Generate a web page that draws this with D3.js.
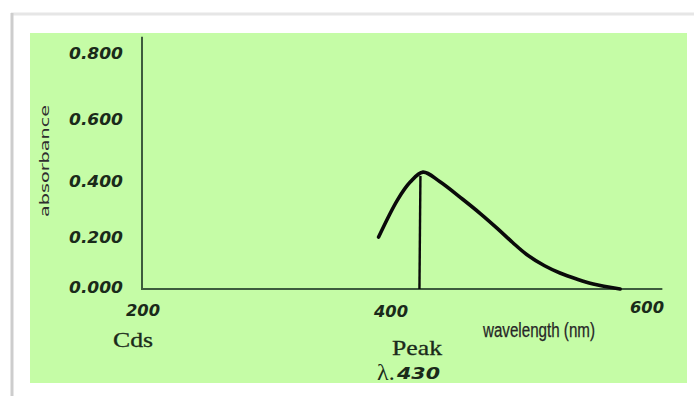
<!DOCTYPE html>
<html>
<head>
<meta charset="utf-8">
<script src="https://cdn.jsdelivr.net/npm/d3@7"></script>
<style>
  html, body { margin: 0; padding: 0; background: #ffffff; }
  svg { display: block; }
</style>
</head>
<body>
<svg id="chart" width="694" height="396"></svg>
<script>
// ---- data ----
const wavelength = [390, 405, 415, 425, 438, 456, 470, 483, 495, 506, 520, 532, 545, 558, 579];
const absorbance = [0.207, 0.339, 0.403, 0.435, 0.405, 0.342, 0.290, 0.238, 0.186, 0.138, 0.093, 0.064, 0.040, 0.020, 0.0];
const yTickValues = [0, 0.2, 0.4, 0.6, 0.8];
const yTickLabels = ["0.000", "0.200", "0.400", "0.600", "0.800"];
const xTickValues = [200, 400, 600];
const xTickLabels = ["200", "400", "600"];
const peakWavelength = 423;
const peakAbsorbance = 0.423;
const yAxisTop = 0.855;
const xAxisEnd = 612;

const svg = d3.select("#chart");

// page frame
svg.append("line").attr("x1", 11).attr("y1", 14).attr("x2", 694).attr("y2", 14)
  .attr("stroke", "#e6e6e6").attr("stroke-width", 3);
svg.append("line").attr("x1", 12).attr("y1", 13).attr("x2", 12).attr("y2", 396)
  .attr("stroke", "#cdcdcd").attr("stroke-width", 3);

// green plot panel
svg.append("rect").attr("x", 30).attr("y", 33).attr("width", 657).attr("height", 350)
  .attr("fill", "#c5fca6");

// scales (piecewise linear to match the reference tick placement)
const x = d3.scaleLinear().domain([200, 400, 600]).range([143, 391, 647]);
const y = d3.scaleLinear().domain(yTickValues).range([289, 239, 183, 121, 55]);

const axisColor = "#3d5b3d";
const textColor = "#1a2a1a";

// axes lines
svg.append("line")
  .attr("x1", x(200) - 1).attr("x2", x(200) - 1)
  .attr("y1", y(yAxisTop)).attr("y2", y(0) + 1)
  .attr("stroke", axisColor).attr("stroke-width", 2);
svg.append("line")
  .attr("x1", x(200) - 2).attr("x2", x(xAxisEnd))
  .attr("y1", y(0)).attr("y2", y(0))
  .attr("stroke", axisColor).attr("stroke-width", 2);

// y tick labels
svg.append("g").selectAll("text").data(yTickValues).join("text")
  .attr("x", 123).attr("y", d => y(d) + 4)
  .attr("text-anchor", "end")
  .attr("font-family", "DejaVu Sans, Verdana, sans-serif")
  .attr("font-weight", "bold").attr("font-style", "italic")
  .attr("font-size", 15.5)
  .attr("textLength", 54).attr("lengthAdjust", "spacingAndGlyphs")
  .attr("fill", textColor)
  .text((d, i) => yTickLabels[i]);

// x tick labels
const xLabelDy = [27, 28, 24];
svg.append("g").selectAll("text").data(xTickValues).join("text")
  .attr("x", d => x(d)).attr("y", (d, i) => y(0) + xLabelDy[i])
  .attr("text-anchor", "middle")
  .attr("font-family", "DejaVu Sans, Verdana, sans-serif")
  .attr("font-weight", "bold").attr("font-style", "italic")
  .attr("font-size", 15.5)
  .attr("textLength", 34).attr("lengthAdjust", "spacingAndGlyphs")
  .attr("fill", textColor)
  .text((d, i) => xTickLabels[i]);

// y axis title
svg.append("text")
  .attr("transform", "translate(49,161) rotate(-90)")
  .attr("text-anchor", "middle")
  .attr("font-family", "DejaVu Sans, sans-serif")
  .attr("font-size", 13)
  .attr("textLength", 112).attr("lengthAdjust", "spacingAndGlyphs")
  .attr("fill", "#2e2e2e")
  .text("absorbance");

// x axis title
svg.append("text")
  .attr("x", 539).attr("y", 337)
  .attr("text-anchor", "middle")
  .attr("font-family", "Liberation Sans Narrow, Liberation Sans, sans-serif")
  .attr("font-size", 19.5)
  .attr("textLength", 112).attr("lengthAdjust", "spacingAndGlyphs")
  .attr("stroke", "#262626").attr("stroke-width", 0.25)
  .attr("fill", "#262626")
  .text("wavelength (nm)");

// annotations
svg.append("text")
  .attr("x", 133).attr("y", 347).attr("text-anchor", "middle")
  .attr("font-family", "Liberation Serif, serif").attr("font-size", 21)
  .attr("textLength", 40).attr("lengthAdjust", "spacingAndGlyphs")
  .attr("stroke", textColor).attr("stroke-width", 0.3)
  .attr("fill", textColor).text("Cds");
svg.append("text")
  .attr("x", 417).attr("y", 355).attr("text-anchor", "middle")
  .attr("font-family", "Liberation Serif, serif").attr("font-size", 21)
  .attr("textLength", 50).attr("lengthAdjust", "spacingAndGlyphs")
  .attr("stroke", textColor).attr("stroke-width", 0.3)
  .attr("fill", textColor).text("Peak");
svg.append("text").attr("x", 377).attr("y", 380)
  .attr("font-family", "Liberation Serif, serif").attr("font-size", 24)
  .attr("fill", textColor).text("λ.");
svg.append("text").attr("x", 397).attr("y", 379)
  .attr("font-family", "DejaVu Sans, Verdana, sans-serif")
  .attr("font-weight", "bold").attr("font-style", "italic").attr("font-size", 16)
  .attr("textLength", 43).attr("lengthAdjust", "spacingAndGlyphs")
  .attr("fill", textColor).text("430");

// absorbance curve
const pts = wavelength.map((w, i) => [w, absorbance[i]]);
const line = d3.line().x(d => x(d[0])).y(d => y(d[1])).curve(d3.curveCatmullRom.alpha(0.5));
svg.append("path").datum(pts)
  .attr("d", line)
  .attr("fill", "none").attr("stroke", "#0a0a0a")
  .attr("stroke-width", 3.6).attr("stroke-linecap", "round").attr("stroke-linejoin", "round");

// peak drop line
svg.append("line")
  .attr("x1", x(peakWavelength)).attr("x2", x(peakWavelength) - 1)
  .attr("y1", y(peakAbsorbance)).attr("y2", y(0))
  .attr("stroke", "#0a0a0a").attr("stroke-width", 2.4);

// white strip below panel (cuts the bottom text as in the reference)
svg.append("rect").attr("x", 14).attr("y", 383).attr("width", 680).attr("height", 13).attr("fill", "#ffffff");
</script>
</body>
</html>
